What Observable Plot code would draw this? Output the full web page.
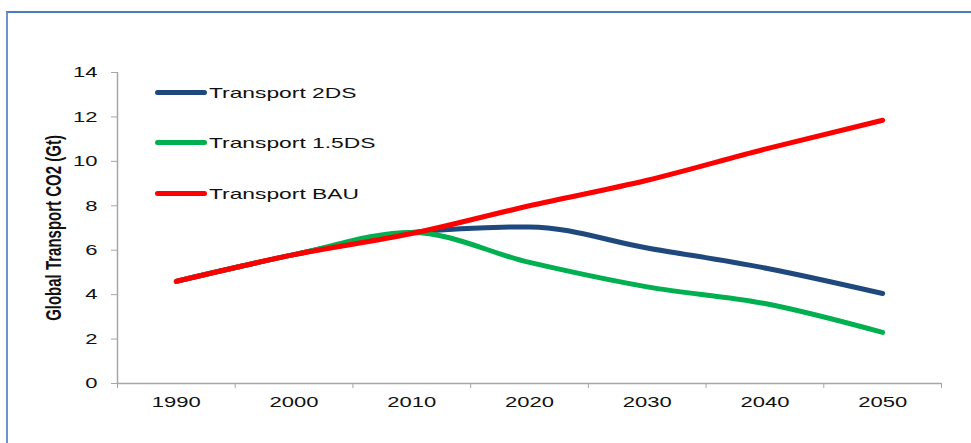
<!DOCTYPE html>
<html>
<head>
<meta charset="utf-8">
<script src="https://cdn.jsdelivr.net/npm/d3@7"></script>
<script src="https://cdn.jsdelivr.net/npm/@observablehq/plot@0.6"></script>
<style>
html, body { margin: 0; padding: 0; background: #fff; overflow: hidden; }
#wrap { position: relative; width: 971px; height: 443px; font-family: "Liberation Sans", Arial, sans-serif; }
#frame { position: absolute; left: 6px; top: 11px; width: 2000px; height: 2000px; border-top: 2px solid #4a7ebb; border-left: 2px solid #6b95cc; box-sizing: border-box; }
#chart { position: absolute; left: 0; top: 0; }
.leg { position: absolute; left: 155px; height: 20px; display: flex; align-items: center; }
.sw { width: 52px; height: 5px; border-radius: 3px; }
.lt { font-size: 15px; color: #111; transform: scaleX(1.52); transform-origin: left center; margin-left: 2px; white-space: nowrap; }
</style>
</head>
<body>
<div id="wrap">
  <div id="frame"></div>
  <div id="chart"></div>
  <div id="legend"></div>
</div>
<script>
const years = [1990, 2000, 2010, 2020, 2030, 2040, 2050];
const seriesNames = ["Transport 2DS", "Transport 1.5DS", "Transport BAU"];
const seriesColors = ["#1f497d", "#00b050", "#ff0000"];
const ds2  = [4.6, 5.8, 6.8, 7.05, 6.1, 5.2, 4.05];
const ds15 = [4.6, 5.8, 6.8, 5.45, 4.35, 3.6, 2.3];
const bau  = [4.6, 5.8, 6.75, 8.0, 9.15, 10.55, 11.85];
const yTicks = [0, 2, 4, 6, 8, 10, 12, 14];
const yTitle = "Global Transport CO2 (Gt)";

const rows = [];
[ds2, ds15, bau].forEach((vals, i) => vals.forEach((v, j) => rows.push({series: seriesNames[i], year: years[j], value: v})));
const half = (years[1] - years[0]) / 2;
const xDomain = [years[0] - half, years[years.length - 1] + half];
const bounds = years.map(y => y - half).concat(xDomain[1]);

const chart = Plot.plot({
  width: 971, height: 443,
  marginLeft: 117, marginRight: 30, marginTop: 72, marginBottom: 60,
  style: {fontFamily: "Liberation Sans, Arial, sans-serif", background: "transparent", overflow: "visible"},
  x: {domain: xDomain},
  y: {domain: [0, 14]},
  color: {domain: seriesNames, range: seriesColors},
  marks: [
    Plot.axisY({ticks: yTicks, tickSize: 6, tickPadding: 14, stroke: "#a6a6a6", fill: "#111", fontSize: 15, label: null}),
    Plot.axisX({ticks: bounds, tickSize: 5, stroke: "#a6a6a6", fill: "none", label: null}),
    Plot.axisX({ticks: years, tickSize: 0, tickPadding: 13, tickFormat: d => String(d), fill: "#111", fontSize: 15, label: null}),
    Plot.ruleX([xDomain[0]], {stroke: "#a6a6a6", strokeWidth: 1.5}),
    Plot.ruleY([0], {stroke: "#a6a6a6", strokeWidth: 1.5}),
    Plot.line(rows, {x: "year", y: "value", z: "series", stroke: "series", strokeWidth: 5, curve: "monotone-x", strokeLinecap: "round", strokeLinejoin: "round"}),
    Plot.text([yTitle], {frameAnchor: "left", textAnchor: "middle", dx: -64, rotate: -90, fontSize: 15, fontWeight: "bold", fill: "#111"})
  ]
});
document.getElementById("chart").appendChild(chart);

// horizontal stretch of the text around its anchor, as in the reference
Array.from(chart.querySelectorAll("text")).forEach(t => {
  const bb = t.getBBox();
  const anchor = getComputedStyle(t).textAnchor;
  const ax = anchor === "middle" ? bb.x + bb.width / 2 : anchor === "end" ? bb.x + bb.width : bb.x;
  const ay = bb.y + bb.height / 2;
  const c = t.transform.baseVal.consolidate();
  const m = c ? c.matrix : {a: 1, b: 0, c: 0, d: 1, e: 0, f: 0};
  const rotated = Math.abs(m.b) > 0.5;
  const px = rotated ? bb.x + bb.width / 2 : ax;
  const py = ay;
  const qx = m.a * px + m.c * py + m.e;
  const qy = m.b * px + m.d * py + m.f;
  const sx = rotated ? 1.45 : 1.47;
  const g = document.createElementNS("http://www.w3.org/2000/svg", "g");
  g.setAttribute("transform", `translate(${qx},${qy}) scale(${sx},1) translate(${-qx},${-qy})`);
  t.parentNode.insertBefore(g, t);
  g.appendChild(t);
});

// legend
const legendCenters = [92, 142.5, 193];
const legend = document.getElementById("legend");
seriesNames.forEach((name, i) => {
  const d = document.createElement("div");
  d.className = "leg";
  d.style.top = (legendCenters[i] - 10) + "px";
  d.innerHTML = `<div class="sw" style="background:${seriesColors[i]}"></div><span class="lt">${name}</span>`;
  legend.appendChild(d);
});
</script>
</body>
</html>
